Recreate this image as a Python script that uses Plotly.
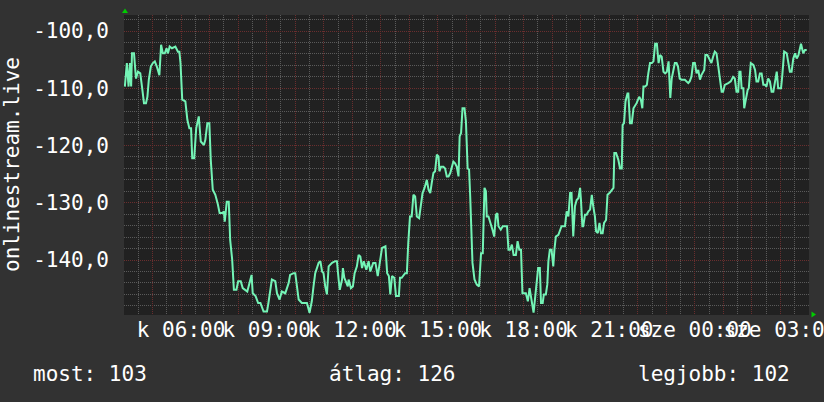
import plotly.graph_objects as go

# ---- data (hours since Tuesday 00:00, value) ----
t_hours = [
    4.03, 4.10, 4.16, 4.21, 4.25, 4.28, 4.35, 4.42, 4.49, 4.57, 4.63, 4.70, 4.77, 4.82, 4.87, 4.94,
    5.01, 5.08, 5.15, 5.22, 5.24, 5.30, 5.36, 5.43, 5.49, 5.54, 5.60, 5.68, 5.80, 5.89, 5.94, 5.98,
    6.04, 6.15, 6.22, 6.29, 6.35, 6.39, 6.46, 6.53, 6.62, 6.69, 6.80, 6.85, 6.92, 6.99,
    7.04, 7.11, 7.20, 7.29, 7.35, 7.44, 7.50, 7.53, 7.60, 7.67, 7.72, 7.79, 7.85, 7.94,
    8.00, 8.09, 8.16, 8.32, 8.41, 8.47, 8.51, 8.61, 8.70, 8.78,
    8.89, 9.01, 9.06, 9.18, 9.30, 9.36, 9.45, 9.53, 9.65, 9.77, 9.82, 9.94,
    10.00, 10.06, 10.12, 10.23, 10.41, 10.50, 10.58, 10.64, 10.70, 10.82, 10.88, 10.94, 10.99,
    11.05, 11.11, 11.17, 11.29, 11.40, 11.46, 11.52, 11.56, 11.64, 11.67, 11.72, 11.79, 11.84, 11.87, 11.95,
    12.02, 12.08, 12.16, 12.22, 12.28, 12.34, 12.40, 12.49, 12.57, 12.63, 12.73, 12.81, 12.89, 12.98,
    13.04, 13.16, 13.22, 13.28, 13.33, 13.39, 13.47, 13.53, 13.63, 13.67, 13.73, 13.85, 13.91, 13.96,
    14.02, 14.08, 14.14, 14.20, 14.26, 14.34, 14.41, 14.46, 14.53, 14.61, 14.67, 14.73, 14.78, 14.84, 14.90, 14.96,
    15.02, 15.05, 15.11, 15.19, 15.25, 15.31, 15.37, 15.43, 15.49, 15.54, 15.60, 15.66, 15.72, 15.76, 15.81, 15.86, 15.93, 15.98,
    16.04, 16.09, 16.13, 16.21, 16.28, 16.36, 16.44, 16.51, 16.57, 16.63, 16.68, 16.71, 16.77, 16.83, 16.91, 16.97,
    17.03, 17.08, 17.12, 17.20, 17.27, 17.42, 17.47, 17.53, 17.59, 17.65, 17.73, 17.79, 17.85, 17.91, 17.96,
    18.08, 18.15, 18.21, 18.27, 18.35, 18.41, 18.51, 18.57, 18.61, 18.67, 18.71, 18.78, 18.83, 18.87, 18.92, 18.98,
    19.04, 19.08, 19.13, 19.22, 19.33, 19.45, 19.51, 19.57, 19.63, 19.68, 19.74, 19.80, 19.86, 19.92, 19.98,
    20.01, 20.06, 20.09, 20.15, 20.21, 20.27, 20.33, 20.39, 20.44, 20.50, 20.54, 20.60, 20.66, 20.71, 20.77, 20.82, 20.89, 20.94,
    21.01, 21.09, 21.15, 21.18, 21.24, 21.32, 21.38, 21.44, 21.47, 21.52, 21.57, 21.64, 21.67, 21.73, 21.79, 21.85, 21.96,
    22.05, 22.11, 22.16, 22.20, 22.26, 22.32, 22.37, 22.43, 22.49, 22.55, 22.61, 22.67, 22.73, 22.78, 22.84, 22.90, 22.96,
    23.02, 23.08, 23.14, 23.19, 23.25, 23.30, 23.36, 23.41, 23.47, 23.53, 23.65, 23.77, 23.82, 23.88, 23.94,
    24.00, 24.06, 24.12, 24.18, 24.23, 24.33, 24.37, 24.44, 24.53, 24.58, 24.64, 24.70, 24.76, 24.82, 24.88, 24.94, 24.99,
    25.05, 25.17, 25.26, 25.34, 25.40, 25.46, 25.52, 25.56, 25.60, 25.64, 25.70, 25.73, 25.79, 25.85, 25.89, 25.96,
    26.05, 26.11, 26.16, 26.22, 26.28, 26.34, 26.40, 26.46, 26.51, 26.57, 26.63, 26.69, 26.75, 26.81, 26.87, 26.92,
    27.02, 27.06, 27.13, 27.22, 27.28, 27.33, 27.39, 27.45, 27.51, 27.57, 27.63, 27.72, 27.77, 27.80, 27.86, 27.92,
]

values = [
    -109.7, -105.6, -109.7, -105.6, -109.7, -103.9, -103.9, -108.3, -107.1, -107.4, -109.7, -112.6, -112.6, -111.5, -108.5, -106.2,
    -105.6, -105.3, -106.2, -107.4, -107.7, -102.4, -103.9, -103.9, -103.0, -103.9, -102.7, -103.0, -102.7, -103.6, -103.6, -105.6,
    -112.0, -112.3, -115.5, -117.0, -117.0, -122.2, -122.2, -117.0, -114.9, -119.3, -119.9, -119.0, -116.1, -116.1,
    -122.5, -127.7, -128.6, -130.3, -131.8, -131.8, -131.5, -133.3, -129.8, -129.8, -136.5, -139.9, -145.2, -145.2,
    -143.7, -143.7, -144.9, -145.5, -143.4, -142.6, -145.8, -146.3, -147.5, -147.5,
    -149.0, -149.0, -147.5, -143.4, -143.7, -145.8, -146.9, -145.5, -145.8, -144.0, -142.6, -142.3,
    -142.3, -144.6, -146.9, -147.5, -147.5, -149.2, -147.2, -144.6, -142.3, -140.5, -140.2, -142.0, -142.3,
    -144.6, -146.0, -141.1, -140.5, -140.2, -140.2, -143.4, -145.2, -143.4, -141.4, -143.1, -144.0, -144.6, -143.4, -144.9,
    -144.6, -142.3, -141.1, -139.1, -139.4, -141.4, -140.2, -141.7, -140.2, -142.0, -140.5, -140.5, -142.8, -139.9,
    -137.9, -137.6, -142.3, -142.8, -146.0, -142.8, -143.1, -146.3, -146.3, -143.1, -143.1, -142.3, -142.3, -137.0,
    -132.4, -132.4, -128.6, -128.9, -132.4, -132.7, -130.1, -128.3, -127.4, -126.0, -127.7, -128.3, -126.6, -124.8, -124.5, -121.6,
    -121.9, -124.5, -123.7, -123.7, -124.0, -125.4, -125.4, -124.8, -123.7, -122.8, -123.1, -123.7, -125.4, -118.4, -117.8, -113.5, -113.5, -115.8,
    -124.0, -124.2, -128.9, -140.5, -143.4, -144.3, -144.6, -138.8, -138.8, -127.4, -128.0, -132.4, -132.4, -133.3, -134.7, -135.9,
    -132.1, -131.8, -134.1, -134.7, -134.1, -134.1, -138.2, -138.2, -137.3, -139.1, -139.1, -136.7, -138.2, -138.2, -145.8,
    -145.8, -147.2, -144.9, -146.9, -149.2, -146.3, -141.4, -141.4, -147.5, -147.5, -146.0, -146.0, -144.3, -140.2, -138.2, -138.2,
    -141.1, -138.2, -135.9, -135.6, -134.1, -134.1, -131.5, -132.4, -128.3, -128.3, -135.9, -130.6, -129.5, -129.2, -127.4,
    -129.5, -134.1, -134.1, -132.1, -132.1, -131.5, -131.2, -128.6, -130.6, -132.4, -135.0, -135.3, -133.5, -135.3, -135.3, -133.5, -133.0, -128.6,
    -128.3, -127.7, -127.4, -121.3, -121.3, -122.5, -124.0, -124.0, -116.4, -116.1, -112.3, -110.9, -110.9, -116.1, -116.1, -113.5, -112.6,
    -111.5, -112.0, -113.5, -109.7, -109.7, -109.4, -107.4, -105.6, -105.6, -105.3, -102.2, -102.2, -105.6, -104.2, -104.5, -107.1, -107.4,
    -107.1, -105.3, -111.7, -108.3, -107.1, -105.6, -105.6, -106.2, -108.3, -108.5, -108.5, -109.1, -108.8, -108.0, -105.6,
    -105.6, -107.4, -106.8, -108.5, -107.7, -106.8, -104.2, -104.2, -105.3, -105.6, -104.5, -103.6, -103.9, -106.2, -108.8, -110.6, -110.6,
    -109.4, -109.1, -108.8, -108.0, -108.3, -110.6, -110.6, -107.1, -107.1, -110.0, -110.0, -113.5, -112.0, -110.3, -110.0, -105.6,
    -105.9, -106.8, -108.8, -108.8, -107.4, -107.4, -109.4, -109.4, -109.7, -108.3, -108.8, -110.6, -110.6, -108.5, -107.1, -110.0,
    -110.0, -108.0, -103.6, -103.9, -105.6, -107.1, -107.1, -104.8, -103.9, -104.8, -104.2, -102.2, -103.3, -103.9, -103.3, -103.3,
]

y_tick_values = [-100, -110, -120, -130, -140]
y_tick_labels = ["-100,0", "-110,0", "-120,0", "-130,0", "-140,0"]

x_grid_hours = list(range(5, 28))
x_label_hours = [6, 9, 12, 15, 18, 21, 24, 27]
x_label_texts = ["k 06:00", "k 09:00", "k 12:00", "k 15:00", "k 18:00", "k 21:00", "sze 00:00", "sze 03:00"]

axis_title = "onlinestream.live"
legend_texts = ["most: 103", "átlag: 126", "legjobb: 102"]

# ---- figure ----
W, H = 824, 402
L, R, T, B = 124, 15, 15, 87
PW, PH = W - L - R, H - T - B

FONT = "DejaVu Sans Mono"
FS = 21
TXT = "#ffffff"
MINOR = "#5a5a5a"
MAJOR = "#6a2e2e"

label_map = dict(zip(x_label_hours, x_label_texts))
x_ticktext = [label_map.get(h, "") for h in x_grid_hours]

fig = go.Figure()
fig.add_trace(go.Scatter(
    x=t_hours, y=values, mode="lines",
    line=dict(color="#74f4b6", width=2),
    hoverinfo="skip", showlegend=False,
))

fig.update_layout(
    width=W, height=H,
    margin=dict(l=L, r=R, t=T, b=B, pad=0, autoexpand=False),
    paper_bgcolor="#323232",
    plot_bgcolor="#212121",
    font=dict(family=FONT, size=FS, color=TXT),
    showlegend=False,
)

fig.update_xaxes(
    range=[4, 28], fixedrange=True, automargin=False,
    tickmode="array", tickvals=x_grid_hours, ticktext=x_ticktext,
    tickangle=0, ticks="", showline=False, zeroline=False,
    showgrid=True, gridcolor=MAJOR, griddash="1px,1px", gridwidth=1,
    minor=dict(tick0=4, dtick=0.5, showgrid=True, gridcolor=MINOR, griddash="1px,1px", gridwidth=1),
    tickfont=dict(family=FONT, size=FS, color=TXT),
    ticklabelstandoff=0,
    ticklabeloverflow="allow",
)
fig.update_yaxes(
    range=[-149.6, -97.2], fixedrange=True, automargin=False,
    tickmode="array", tickvals=y_tick_values, ticktext=y_tick_labels,
    ticks="", showline=False, zeroline=False,
    showgrid=True, gridcolor=MAJOR, griddash="1px,1px", gridwidth=1,
    minor=dict(tick0=-100, dtick=2, showgrid=True, gridcolor=MINOR, griddash="1px,1px", gridwidth=1),
    tickfont=dict(family=FONT, size=FS, color=TXT),
    ticklabelstandoff=14,
)

def px_x(px):
    return (px - L) / PW

def px_y(py):
    return (H - B - py) / PH

# rotated axis title
fig.add_annotation(
    text=axis_title, textangle=-90,
    xref="paper", yref="paper", x=px_x(12), y=px_y(165),
    xanchor="center", yanchor="middle", showarrow=False,
    font=dict(family=FONT, size=FS, color=TXT),
)

# legend line
fig.add_annotation(text=legend_texts[0], xref="paper", yref="paper",
                   x=px_x(31), y=px_y(373.5), xanchor="left", yanchor="middle",
                   showarrow=False, font=dict(family=FONT, size=FS, color=TXT))
fig.add_annotation(text=legend_texts[1], xref="paper", yref="paper",
                   x=px_x(392), y=px_y(373.5), xanchor="center", yanchor="middle",
                   showarrow=False, font=dict(family=FONT, size=FS, color=TXT))
fig.add_annotation(text=legend_texts[2], xref="paper", yref="paper",
                   x=px_x(792), y=px_y(373.5), xanchor="right", yanchor="middle",
                   showarrow=False, font=dict(family=FONT, size=FS, color=TXT))

# green axis arrows
def tri(points):
    return "M " + " L ".join(f"{px_x(a):.5f},{px_y(b):.5f}" for a, b in points) + " Z"

fig.add_shape(type="path", xref="paper", yref="paper",
              path=tri([(125, 8.5), (122, 13), (128, 13)]),
              fillcolor="#00cc00", line=dict(width=0), layer="above")
fig.add_shape(type="path", xref="paper", yref="paper",
              path=tri([(816, 314.5), (811.5, 311.5), (811.5, 317.5)]),
              fillcolor="#00cc00", line=dict(width=0), layer="above")

fig.write_html("out.html", config={"displayModeBar": False, "staticPlot": True})

# remove the browser's default page margin so the figure sits at the window origin
with open("out.html", "r", encoding="utf-8") as f:
    html = f.read()
html = html.replace("<body>", '<body style="margin:0;padding:0;overflow:hidden;background:#323232">', 1)
with open("out.html", "w", encoding="utf-8") as f:
    f.write(html)
